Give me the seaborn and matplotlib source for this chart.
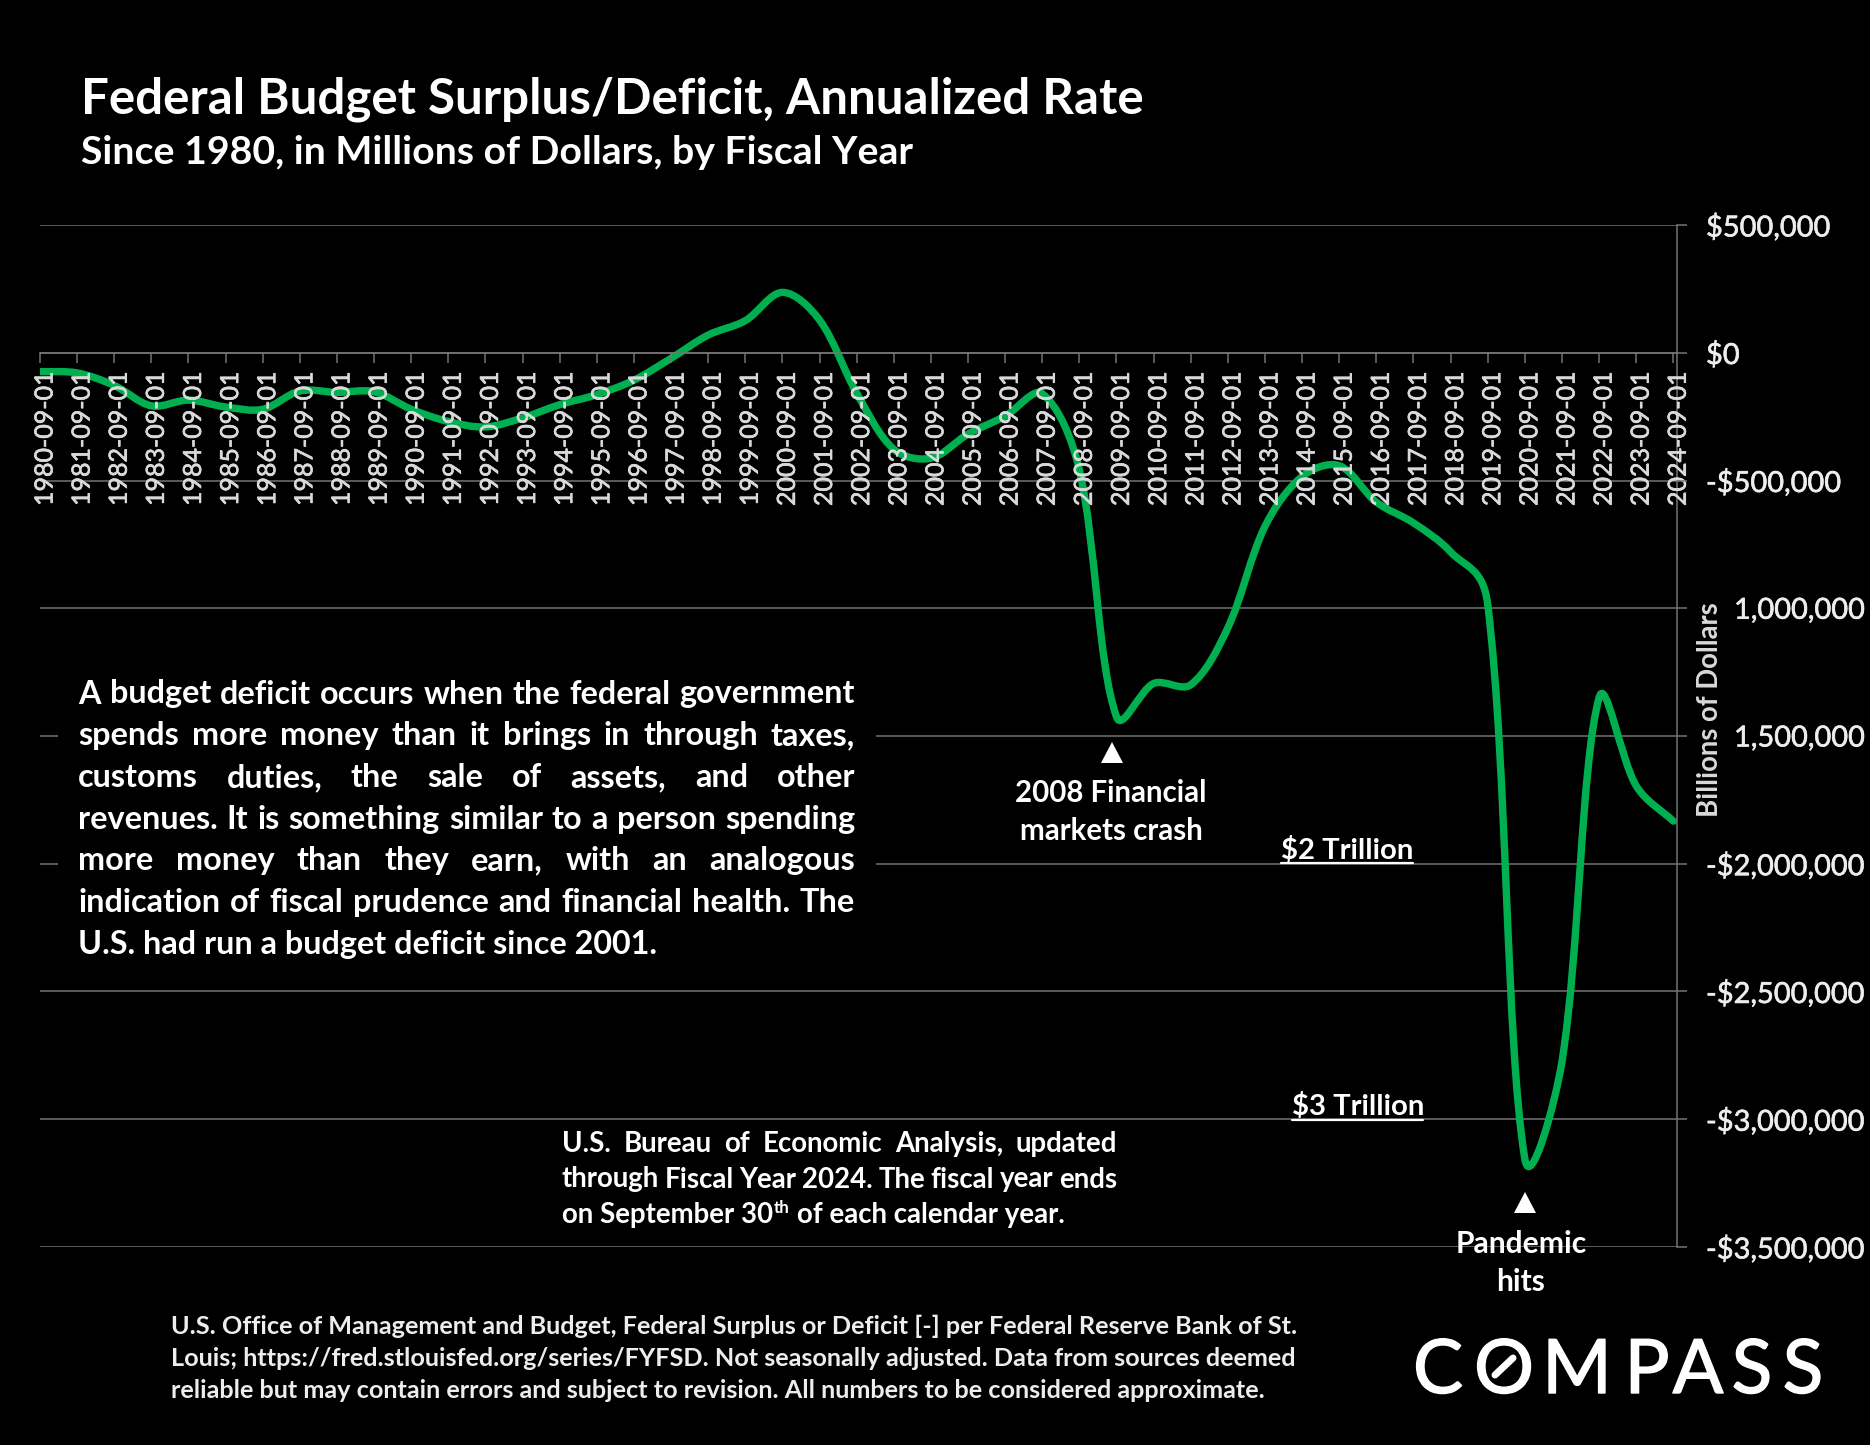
import matplotlib
matplotlib.use("Agg")
import matplotlib.pyplot as plt
import matplotlib.patheffects as pe
import seaborn as sns
import pandas as pd
from matplotlib.lines import Line2D
from matplotlib.patches import PathPatch, Polygon, Rectangle
from matplotlib.path import Path
from matplotlib.transforms import ScaledTranslation

# ---------- data ----------
years = list(range(1980, 2025))
dates = [f"{y}-09-01" for y in years]
deficit = [-73830, -78968, -127977, -207802, -185367, -212308, -221227, -149730, -155178,
           -152639, -221036, -269238, -290321, -255051, -203186, -163952, -107431, -21884,
           69270, 125610, 236241, 128236, -157758, -377585, -412727, -318346, -248181,
           -160701, -458553, -1425000, -1294373, -1299599, -1076573, -679775, -484600,
           -441960, -584651, -665802, -779137, -984155, -3155000, -2775000, -1350000,
           -1695000, -1833000]
y_ticks = [500000, 0, -500000, -1000000, -1500000, -2000000, -2500000, -3000000, -3500000]
y_labels = ["$500,000", "$0", "-$500,000", "1,000,000", "1,500,000", "-$2,000,000",
            "-$2,500,000", "-$3,000,000", "-$3,500,000"]
title = "Federal Budget Surplus/Deficit, Annualized Rate"
subtitle = "Since 1980, in Millions of Dollars, by Fiscal Year"
body_lines = ["A budget deficit occurs when the federal government",
              "spends more money than it brings in through taxes,",
              "customs duties, the sale of assets, and other",
              "revenues. It is something similar to a person spending",
              "more money than they earn, with an analogous",
              "indication of fiscal prudence and financial health. The",
              "U.S. had run a budget deficit since 2001."]
src_lines = ["U.S. Bureau of Economic Analysis, updated",
             "through Fiscal Year 2024. The fiscal year ends"]
foot_lines = ["U.S. Office of Management and Budget, Federal Surplus or Deficit [-] per Federal Reserve Bank of St.",
              "Louis; https://fred.stlouisfed.org/series/FYFSD. Not seasonally adjusted. Data from sources deemed",
              "reliable but may contain errors and subject to revision. All numbers to be considered approximate."]

# ---------- figure ----------
W, H = 1870, 1445
GREEN, GRID = "#00B050", "#767676"
sns.set_theme(style="dark")
plt.rcParams["font.family"] = ["Lato", "DejaVu Sans"]
fig = plt.figure(figsize=(W / 100, H / 100), dpi=100, facecolor="black")
ax = fig.add_axes([40 / W, 1 - 1247 / H, (1677 - 40) / W, (1247 - 225) / H], facecolor="black")
renderer = fig.canvas.get_renderer()
PX = 0.72


def fx(x):
    return x / W


def fy(y):
    return 1 - y / H


df = pd.DataFrame({"date": dates, "deficit": deficit})
sns.lineplot(data=df, x="date", y="deficit", color=GREEN, linewidth=0, ax=ax, errorbar=None, sort=False)
ax.set_xlim(0, 44.1)
ax.set_ylim(-3500000, 500000)
ax.set_xlabel("")
ax.set_ylabel("")
ax.grid(False)
fig.canvas.draw()

# smooth curve through the yearly values, as the spreadsheet's smoothed line does
pts = ax.transData.transform(ax.lines[0].get_xydata())
verts, codes = [tuple(pts[0])], [Path.MOVETO]
n = len(pts)
BLEND = 0.8


def share(a, b):
    return BLEND * a / (a + b) + (1 - BLEND) * 0.5


for i in range(n - 1):
    p0, p1, p2, p3 = pts[max(i - 1, 0)], pts[i], pts[i + 1], pts[min(i + 2, n - 1)]
    d01 = ((p1 - p0) ** 2).sum() ** 0.5
    d12 = ((p2 - p1) ** 2).sum() ** 0.5
    d23 = ((p3 - p2) ** 2).sum() ** 0.5
    c1 = p1 + (p2 - p0) * share(d12, d01) / 3
    c2 = p2 - (p3 - p1) * share(d12, d23) / 3
    verts += [tuple(c1), tuple(c2), tuple(p2)]
    codes += [Path.CURVE4] * 3
data_verts = ax.transData.inverted().transform(verts)
ax.add_patch(PathPatch(Path(data_verts, codes), fill=False, edgecolor=GREEN, linewidth=7.4 * PX,
                       capstyle="round", joinstyle="round", zorder=2))

for v in y_ticks:
    ax.axhline(v, color=GRID, linewidth=1.5 * PX, zorder=1)

# axes furniture
for s in ("top", "left"):
    ax.spines[s].set_visible(False)
ax.spines["right"].set_color(GRID)
ax.spines["right"].set_linewidth(1.5 * PX)
ax.spines["bottom"].set_position(("data", 0))
ax.spines["bottom"].set_color(GRID)
ax.spines["bottom"].set_linewidth(1.5 * PX)
ax.set_axisbelow(False)
ax.yaxis.tick_right()
ax.set_yticks(y_ticks, y_labels)
ax.tick_params(axis="y", right=True, length=10 * PX, width=1.5 * PX, color=GRID, pad=19 * PX,
               labelsize=29 * PX, labelcolor="#EDEDED")
ax.tick_params(axis="x", bottom=True, length=10 * PX, width=1.5 * PX, color=GRID, pad=9 * PX,
               labelsize=25 * PX, labelcolor="#D9D9D9", labelrotation=90)
thicken = [pe.withStroke(linewidth=0.6 * PX, foreground="#E6E6E6")]
for lab in ax.get_yticklabels():
    lab.set_verticalalignment("center_baseline")
    lab.set_path_effects(thicken)
for lab in ax.get_xticklabels():
    lab.set_path_effects(thicken)
    lab.set_transform(lab.get_transform() + ScaledTranslation(0.05, 0, fig.dpi_scale_trans))
for tick, lab in zip(ax.yaxis.get_major_ticks(), y_labels):
    if not lab.startswith(("$", "-")):
        tick.set_pad(47 * PX)

# black panel hiding the grid behind the explanatory text
ax.add_patch(Rectangle((fx(58), fy(970)), fx(876 - 58), fy(665) - fy(970), transform=fig.transFigure,
                       facecolor="black", edgecolor="none", zorder=1.5))


def put(s, x, y, size, weight="bold", color="white", ha="left", **kw):
    return fig.text(fx(x), fy(y), s, fontsize=size * PX, fontweight=weight, color=color,
                    ha=ha, va="baseline", **kw)


def justify(s, x0, x1, y, size, weight="bold", color="white"):
    words = s.split()
    arts = [put(w, 0, y, size, weight, color) for w in words]
    widths = [a.get_window_extent(renderer).width for a in arts]
    gap = (x1 - x0 - sum(widths)) / (len(words) - 1)
    x = x0
    for a, w in zip(arts, widths):
        a.set_x(fx(x))
        x += w + gap


def triangle(x0, x1, top, bottom):
    fig.add_artist(Polygon([(fx(x0), fy(bottom)), (fx(x1), fy(bottom)), (fx((x0 + x1) / 2), fy(top))],
                           closed=True, transform=fig.transFigure, facecolor="white", edgecolor="none"))


def rule(x0, x1, y, width=2.2, color="white"):
    fig.add_artist(Line2D([fx(x0), fx(x1)], [fy(y), fy(y)], transform=fig.transFigure, color=color,
                          linewidth=width * PX))


# headings
put(title, 81, 113, 49.3)
put(subtitle, 81, 163.5, 39.2)

# explanatory text
for i, line in enumerate(body_lines[:-1]):
    justify(line, 78, 855, 703.5 + i * 41.7, 32.4)
put(body_lines[-1], 78, 703.5 + 6 * 41.7, 32.4)

# annotations
triangle(1101, 1123, 742, 763)
put("2008 Financial", 1111, 802, 29.5, ha="center")
put("markets crash", 1111, 840, 29.5, ha="center")
triangle(1514, 1536, 1192, 1213)
put("Pandemic", 1521, 1253, 30, ha="center")
put("hits", 1521, 1291, 30, ha="center")
put("$2 Trillion", 1347, 859, 29.2, ha="center")
rule(1281, 1413, 863)
put("$3 Trillion", 1358, 1115, 29.2, ha="center")
rule(1292, 1423, 1120)
fig.text(fx(1710), fy(710), "Billions of Dollars", rotation=90, fontsize=27.5 * PX, fontweight="bold",
         color="#D9D9D9", ha="center", va="center")

# source panel
for i, line in enumerate(src_lines):
    justify(line, 562, 1117, 1152 + i * 35.5, 27.6)
a = put("on September 30", 562, 1223, 27.6)
x = 562 + a.get_window_extent(renderer).width
b = put("th", x + 1, 1213, 17)
x = b.get_window_extent(renderer).x1
put("of each calendar year.", x + 7, 1223, 27.6)

# footnote
for i, line in enumerate(foot_lines):
    put(line, 171, 1334 + i * 32, 25.2, weight="bold", color="#EDEDED")

# logo
for ch, xc in zip("COMPASS", [1438, 1504, 1577, 1647, 1698, 1752, 1803]):
    t = put(ch, xc, 1393, 75, weight="normal", ha="center")
    t.set_path_effects([pe.withStroke(linewidth=1.4 * PX, foreground="white")])
fig.add_artist(Line2D([fx(1495), fx(1513)], [fy(1375), fy(1358)], transform=fig.transFigure,
                      color="white", linewidth=7 * PX))

fig.savefig("out.png", dpi=100, facecolor="black")
